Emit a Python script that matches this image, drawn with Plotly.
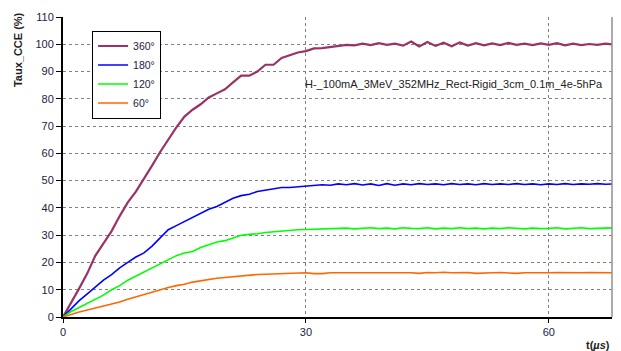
import plotly.graph_objects as go

t = list(range(0, 69))

s360 = [0, 5, 10.5, 16, 22.5, 27, 31.5, 37, 42, 46, 50.5, 55.5, 60.5, 65, 69.5, 73.5, 76, 78, 80.5, 82,
        83.5, 86, 88.5, 88.5, 90, 92.5, 92.5, 95, 96, 97, 97.5, 98.5, 98.6, 99, 99.3, 99.8, 99.6, 100.2, 99.7, 100.4,
        99.8, 100.2, 99.5, 101, 99.2, 100.8, 99.4, 100.6, 99.3, 100.7, 99.5, 100.4, 99.6, 100.3, 99.7, 100.5, 99.8, 100.2, 99.7, 100.3,
        99.8, 100.4, 99.6, 100.2, 99.7, 100.1, 99.8, 100.2, 99.9]
s180 = [0, 3, 6, 8.5, 11, 13.5, 15.5, 18, 20, 22, 23.5, 26, 29, 32, 33.5, 35, 36.5, 38, 39.5, 40.5,
        42, 43.5, 44.5, 45, 46, 46.5, 47, 47.5, 47.5, 47.8, 48, 48.2, 48.5, 48.3, 48.8, 48.5, 48.9, 48.4, 48.8, 48.2,
        48.9, 48.3, 48.8, 48.5, 48.9, 48.6, 48.8, 48.5, 48.9, 48.6, 48.8, 48.5, 48.9, 48.6, 48.8, 48.6, 48.9, 48.6, 48.8, 48.5,
        48.8, 48.6, 48.9, 48.6, 48.8, 48.7, 48.9, 48.7, 48.8]
s120 = [0, 2, 3.5, 5, 6.5, 8, 10, 11.5, 13.5, 15, 16.5, 18, 19.5, 21, 22.5, 23.5, 24, 25.5, 26.5, 27.5,
        28, 29, 30, 30.3, 30.5, 31, 31.3, 31.6, 31.8, 32, 32.1, 32.2, 32.3, 32.3, 32.4, 32.6, 32.3, 32.5, 32.7, 32.4,
        32.6, 32.3, 32.7, 32.5, 32.4, 32.7, 32.3, 32.6, 32.4, 32.7, 32.4, 32.6, 32.3, 32.6, 32.4, 32.7, 32.5, 32.3, 32.6, 32.4,
        32.5, 32.7, 32.3, 32.5, 32.7, 32.4, 32.5, 32.6, 32.7]
s60 = [0, 1, 1.8, 2.6, 3.3, 4, 4.8, 5.5, 6.5, 7.4, 8.3, 9, 10, 10.8, 11.5, 12, 12.8, 13.3, 13.8, 14.2,
       14.5, 14.8, 15.2, 15.4, 15.6, 15.7, 15.8, 15.9, 16, 16.1, 16.2, 15.9, 15.9, 16.2, 16.2, 16.2, 16.3, 16.2, 16.2, 16.2,
       16.3, 16.2, 16.2, 16.2, 16.0, 16.3, 16.2, 16.4, 16.2, 16.2, 16.3, 16.0, 16.2, 16.2, 16.3, 16.2, 16.0, 16.2, 16.2, 16.0,
       16.2, 16.3, 16.2, 16.2, 16.2, 16.3, 16.2, 16.2, 16.2]

names = ["360°", "180°", "120°", "60°"]
colors = ["#993366", "#0000FF", "#00FF00", "#FF6600"]
widths = [2.2, 1.6, 1.6, 1.6]
series = [s360, s180, s120, s60]

x_ticks = [0, 30, 60]
y_ticks = list(range(0, 111, 10))

fig = go.Figure()
for n, c, w, s in zip(names, colors, widths, series):
    fig.add_trace(go.Scatter(x=t, y=s, mode="lines", name=n,
                             line=dict(color=c, width=w)))

font_family = "Liberation Sans, Arial, sans-serif"
tick_color = "#222240"
fig.update_layout(
    width=621, height=351,
    margin=dict(l=63, r=9, t=17, b=34),
    paper_bgcolor="white", plot_bgcolor="white",
    font=dict(family=font_family, size=11, color=tick_color),
    showlegend=True,
    legend=dict(x=0.053, y=0.955, xanchor="left", yanchor="top",
                bgcolor="white", bordercolor="black", borderwidth=1,
                font=dict(size=10.5, color=tick_color), itemwidth=30,
                tracegroupgap=0),
    xaxis=dict(range=[0, 67.8], tickvals=x_ticks, ticks="outside", ticklen=4,
               tickcolor="black", showline=True, linecolor="black", linewidth=2,
               showgrid=True, gridcolor="#808080", griddash="3px,3px", gridwidth=1,
               zeroline=False, tickfont=dict(size=11, color=tick_color)),
    yaxis=dict(range=[0, 110], tickvals=y_ticks, ticks="outside", ticklen=5,
               tickcolor="black", showline=True, linecolor="black", linewidth=2,
               showgrid=True, gridcolor="#808080", griddash="3px,3px", gridwidth=1,
               zeroline=False, tickfont=dict(size=11, color=tick_color)),
    shapes=[dict(type="line", xref="paper", yref="paper", x0=1, x1=1, y0=0, y1=1,
                 line=dict(color="#909090", width=1.5))],
    annotations=[
        dict(text="H-_100mA_3MeV_352MHz_Rect-Rigid_3cm_0.1m_4e-5hPa",
             xref="paper", yref="paper", x=0.437, y=0.777, xanchor="left", yanchor="middle",
             showarrow=False, font=dict(size=11, color="#222222")),
        dict(text="<b>Taux_CCE (%)</b>", xref="paper", yref="paper", x=-0.082, y=0.893,
             textangle=-90, showarrow=False, xanchor="center", yanchor="middle",
             font=dict(size=11, color="#222222")),
        dict(text="<b>t(<i>µs</i>)</b>", xref="paper", yref="paper", x=0.975, y=-0.093,
             showarrow=False, xanchor="center", yanchor="middle",
             font=dict(size=11, color="#222222")),
    ],
)

fig.write_html("out.html")
